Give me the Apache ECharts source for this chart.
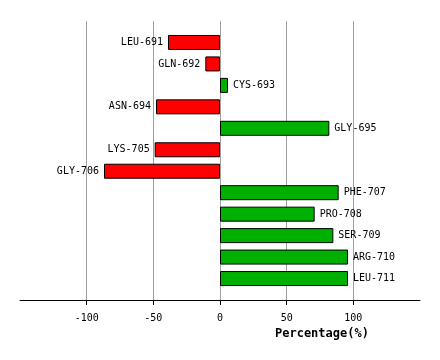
<!DOCTYPE html>
<html><head><meta charset="utf-8">
<script src="https://cdn.jsdelivr.net/npm/echarts@6/dist/echarts.min.js"></script>
<style>html,body{margin:0;padding:0;background:#fff}#c{width:440px;height:360px}</style>
</head><body><div id="c"></div>
<script>
var categories = ['LEU-691','GLN-692','CYS-693','ASN-694','GLY-695','LYS-705','GLY-706','PHE-707','PRO-708','SER-709','ARG-710','LEU-711'];
var values = [-39, -11, 6, -48, 82, -49, -87, 89, 71, 85, 96, 96];
var tickValues = [-100, -50, 0, 50, 100];
var axisTitle = 'Percentage(%)';

var font = 'DejaVu Sans Mono';
var yCats = [''].concat(categories).concat(['']);
var seriesData = ['-'].concat(values.map(function (v, i) {
  var neg = v < 0;
  return {
    value: v,
    itemStyle: { color: neg ? '#ff0000' : '#00b000' },
    label: { position: neg ? 'left' : 'right' }
  };
})).concat(['-']);

var chart = echarts.init(document.getElementById('c'), null, { renderer: 'canvas' });
chart.setOption({
  animation: false,
  grid: { left: 20, right: 20, top: 21, bottom: 60, containLabel: false },
  xAxis: {
    type: 'value', min: -150, max: 150, interval: 50,
    axisLine: { show: true, onZero: false, lineStyle: { color: '#000', width: 1 } },
    axisTick: { show: true, length: 5, lineStyle: { color: '#000' }, customValues: tickValues },
    axisLabel: { customValues: tickValues,
      color: '#000', fontFamily: font, fontSize: 10, margin: 13 },
    splitLine: { show: true, lineStyle: { color: '#a0a0a0', width: 1 } }
  },
  yAxis: {
    type: 'category', data: yCats, inverse: true, boundaryGap: false,
    axisLine: { show: false }, axisTick: { show: false }, axisLabel: { show: false }, splitLine: { show: false }
  },
  series: [{
    type: 'bar', data: seriesData, barWidth: 15,
    itemStyle: { borderColor: '#000', borderWidth: 1 },
    label: {
      show: true, distance: 5, color: '#000', fontFamily: font, fontSize: 10,
      formatter: function (p) { return categories[p.dataIndex - 1]; }
    }
  }],
  graphic: [{
    type: 'text', left: 320 - 45, top: 328,
    style: { text: axisTitle, fill: '#000', font: 'bold 12px "DejaVu Sans Mono"' }
  }]
});
</script></body></html>
